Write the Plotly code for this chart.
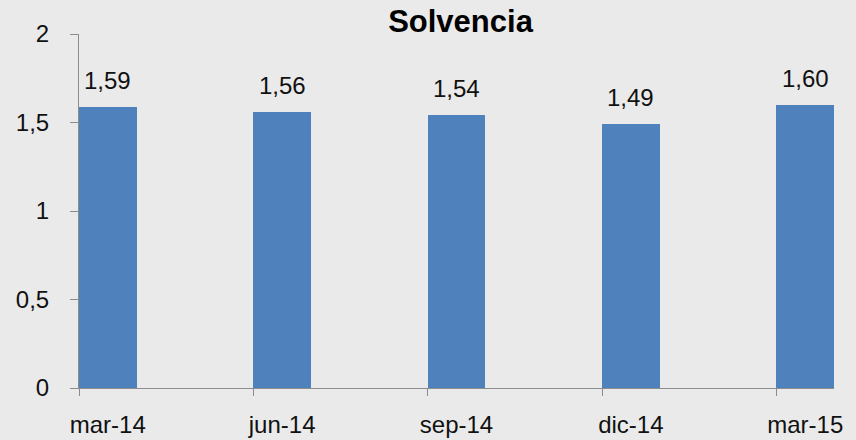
import plotly.graph_objects as go

periods = ["mar-14", "jun-14", "sep-14", "dic-14", "mar-15"]
solvencia = [1.59, 1.56, 1.54, 1.49, 1.60]
y_ticks = [0, 0.5, 1, 1.5, 2]

BAR_W = 0.33
positions = list(range(len(periods)))
FONT = "Liberation Sans, Arial, sans-serif"
GRAY = "#8c8c8c"

fig = go.Figure()
fig.add_trace(
    go.Bar(
        x=positions, y=solvencia, width=BAR_W, offset=0,
        marker={"color": "#4f81bd", "line": {"width": 0}},
        showlegend=False, hoverinfo="skip",
    )
)
# etiquetas de datos sobre cada barra
for pos, val in zip(positions, solvencia):
    fig.add_annotation(
        x=pos + BAR_W / 2, y=val, xref="x", yref="y",
        text=f"{val:.2f}".replace(".", ","), showarrow=False,
        yanchor="bottom", yshift=11,
        font={"family": FONT, "size": 24, "color": "#111111"},
    )

fig.update_layout(
    width=856, height=440,
    separators=", ",
    paper_bgcolor="#eaeaea", plot_bgcolor="#eaeaea",
    margin={"l": 79, "r": 22, "t": 34, "b": 52, "autoexpand": False},
    bargap=0,
    title={
        "text": "<b>Solvencia</b>", "x": 0.538, "xanchor": "center",
        "y": 0.952, "yanchor": "middle",
        "font": {"family": "Liberation Sans Narrow, Arial Narrow, Liberation Sans",
                 "size": 31, "color": "#000000"},
    },
    xaxis={
        "range": [0, positions[-1] + BAR_W], "tickvals": positions,
        "ticktext": [""] * len(periods), "ticks": "outside", "ticklen": 7,
        "tickcolor": GRAY, "showline": True, "linecolor": GRAY,
        "showgrid": False, "zeroline": False, "automargin": False,
    },
    xaxis2={
        "overlaying": "x", "matches": "x", "side": "bottom",
        "tickvals": [p + BAR_W / 2 for p in positions], "ticktext": periods,
        "ticks": "", "showgrid": False, "zeroline": False, "showline": False,
        "ticklabelstandoff": 20, "automargin": False,
        "tickfont": {"family": FONT, "size": 24, "color": "#111111"},
    },
    yaxis={
        "range": [0, 2], "tickvals": y_ticks, "ticks": "outside", "ticklen": 8,
        "tickcolor": GRAY, "showline": True, "linecolor": GRAY,
        "showgrid": False, "zeroline": False, "ticklabelstandoff": 16,
        "automargin": False,
        "tickfont": {"family": FONT, "size": 24, "color": "#111111"},
    },
)
# traza invisible para activar el eje de etiquetas
fig.add_trace(go.Scatter(x=[positions[0]], y=[0], xaxis="x2", mode="markers",
                         marker={"opacity": 0}, showlegend=False, hoverinfo="skip"))

# sin margen del body para que la figura ocupe toda la ventana
fig.write_html(
    "out.html",
    config={"displayModeBar": False},
    post_script="document.body.style.margin='0';",
)
